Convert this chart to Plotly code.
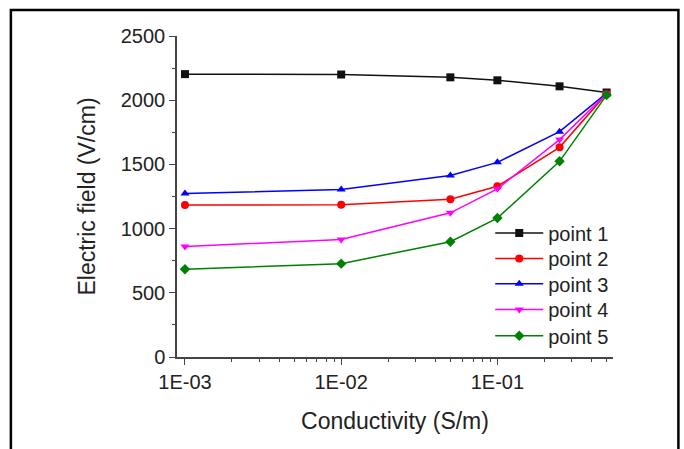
import plotly.graph_objects as go

conductivity = [0.001, 0.01, 0.05, 0.1, 0.25, 0.5]
point1 = [2203, 2200, 2178, 2155, 2108, 2060]
point2 = [1183, 1185, 1229, 1330, 1633, 2050]
point3 = [1273, 1304, 1413, 1516, 1755, 2055]
point4 = [860, 916, 1123, 1310, 1693, 2050]
point5 = [683, 727, 898, 1082, 1524, 2040]

series_names = ["point 1", "point 2", "point 3", "point 4", "point 5"]
series_values = [point1, point2, point3, point4, point5]
colors = ["#111111", "#ff0000", "#0000ff", "#ff00ff", "#008000"]
symbols = ["square", "circle", "triangle-up", "triangle-down", "diamond"]

x_tickvals = [0.001, 0.01, 0.1]
x_ticktext = ["1E-03", "1E-02", "1E-01"]
x_minor = [m * 10.0 ** e for e in (-3, -2, -1) for m in range(2, 10)]

FONT = "Liberation Sans, Arial, sans-serif"
TXT = "#222222"

legend_y = [0.386, 0.307, 0.228, 0.148, 0.066]

fig = go.Figure()
legend_layout = {}
for i, (name, vals, c, s) in enumerate(zip(series_names, series_values, colors, symbols)):
    key = "legend" if i == 0 else f"legend{i + 1}"
    fig.add_trace(go.Scatter(
        x=conductivity, y=vals, name=name, mode="lines+markers",
        line=dict(color=c, width=1.5),
        marker=dict(symbol=s, size=8, color=c),
        legend=key,
    ))
    legend_layout[key] = dict(
        x=0.7184, y=legend_y[i], xanchor="left", yanchor="middle",
        font=dict(size=20, family=FONT, color=TXT),
        bgcolor="rgba(0,0,0,0)", itemwidth=48,
    )

fig.update_layout(
    width=684, height=449,
    margin=dict(l=177, r=71, t=36, b=92),
    paper_bgcolor="white", plot_bgcolor="white",
    font=dict(family=FONT, color=TXT),
    showlegend=True,
    shapes=[dict(type="rect", xref="paper", yref="paper",
                 x0=-0.381, x1=1.15, y0=-0.6, y1=1.081,
                 line=dict(color="black", width=2.5))],
    **legend_layout,
)

fig.update_xaxes(
    type="log", range=[-3.051, -0.26],
    tickmode="array", tickvals=x_tickvals, ticktext=x_ticktext,
    ticks="outside", ticklen=6, tickwidth=1.2, tickcolor="#444444",
    minor=dict(tickmode="array", tickvals=x_minor, ticks="outside",
               ticklen=3, tickwidth=1, tickcolor="#444444", showgrid=False),
    showline=True, linecolor="#444444", linewidth=1.5,
    showgrid=False, zeroline=False,
    tickfont=dict(size=20, family=FONT, color=TXT),
    title=dict(text="Conductivity (S/m)", font=dict(size=23, family=FONT, color=TXT), standoff=21),
)
fig.update_yaxes(
    range=[0, 2500], tickmode="linear", tick0=0, dtick=500,
    ticks="outside", ticklen=6, tickwidth=1.2, tickcolor="#444444",
    minor=dict(dtick=250, ticks="outside", ticklen=3, tickwidth=1,
               tickcolor="#444444", showgrid=False),
    showline=True, linecolor="#444444", linewidth=1.5,
    showgrid=False, zeroline=False,
    tickfont=dict(size=20, family=FONT, color=TXT),
    title=dict(text="Electric field (V/cm)", font=dict(size=23, family=FONT, color=TXT), standoff=19),
)

fig.write_html("out.html", config={"displayModeBar": False},
               post_script="document.body.style.margin='0px';")
